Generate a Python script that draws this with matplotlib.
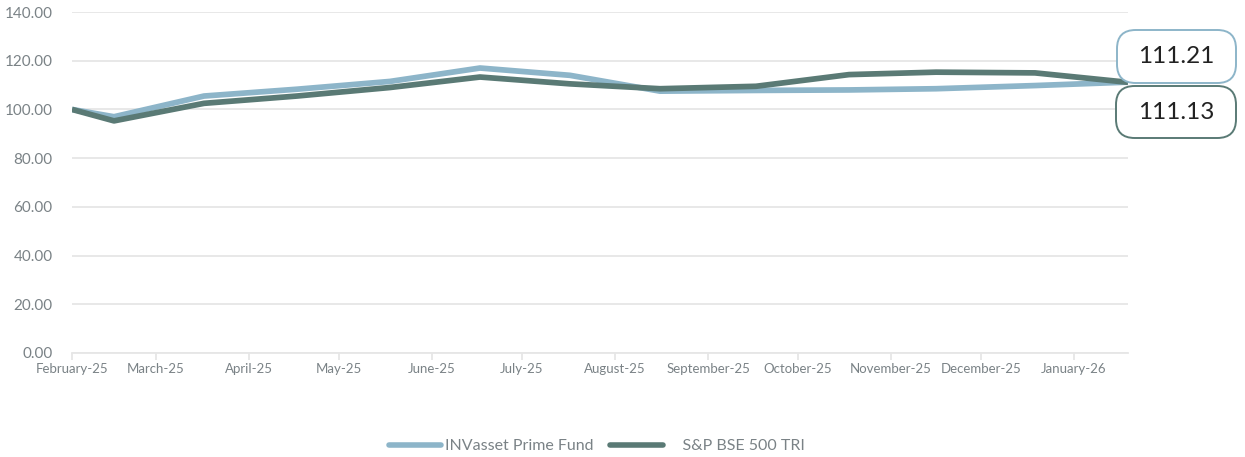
import matplotlib
matplotlib.use("Agg")
import matplotlib.pyplot as plt
import matplotlib.dates as mdates
from matplotlib.patches import FancyBboxPatch
import numpy as np
import pandas as pd

plt.rcParams['font.family'] = ['Lato', 'DejaVu Sans']

dates = pd.to_datetime(['2025-02-01', '2025-02-15', '2025-03-17', '2025-04-17', '2025-05-18',
                        '2025-06-17', '2025-07-17', '2025-08-16', '2025-09-17', '2025-10-18',
                        '2025-11-16', '2025-12-19', '2026-01-19'])
fund = [100.0, 97.0, 105.5, 108.3, 111.5, 117.0, 114.0, 107.5, 107.8, 108.0, 108.5, 109.8, 111.21]
bench = [100.0, 95.3, 102.5, 105.5, 109.0, 113.3, 110.5, 108.5, 109.5, 114.3, 115.3, 115.0, 111.13]
series_names = ['INVasset Prime Fund', '    S&P BSE 500 TRI']
end_labels = ['111.21', '111.13']
yticks = [0, 20, 40, 60, 80, 100, 120, 140]
month_ticks = pd.date_range('2025-02-01', '2026-01-01', freq='MS')

c_fund = '#8db5c9'
c_bench = '#5a7a75'
grid_c = '#e6e6e6'
txt_c = '#7a8286'

W, H = 1245, 457
fig = plt.figure(figsize=(W / 100, H / 100), dpi=100)
ax = fig.add_axes([72 / W, 1 - 353 / H, (1128 - 72) / W, (353 - 12) / H])

ax.plot(dates, fund, color=c_fund, lw=4.1, solid_joinstyle='round', solid_capstyle='butt',
        label=series_names[0], zorder=3)
ax.plot(dates, bench, color=c_bench, lw=4.1, solid_joinstyle='round', solid_capstyle='butt',
        label=series_names[1], zorder=4)

ax.set_ylim(0, 140)
ax.set_yticks(yticks)
ax.set_yticklabels([f'{v:.2f}' for v in yticks])
ax.set_xlim(dates[0], dates[-1])
ax.set_xticks(month_ticks)
ax.set_xticklabels([d.strftime('%B-%y') for d in month_ticks])

ax.grid(axis='y', color=grid_c, lw=1.3)
ax.set_axisbelow(True)
for s in ['top', 'right', 'left']:
    ax.spines[s].set_visible(False)
ax.spines['bottom'].set_color(grid_c)
ax.spines['bottom'].set_linewidth(1.3)
ax.tick_params(axis='y', length=0, labelsize=11, labelcolor=txt_c, pad=14)
ax.tick_params(axis='x', length=5, color=grid_c, width=1.3, labelsize=9.5, labelcolor=txt_c, pad=2)

# end-value callouts
def add_box(x0, y0, x1, y1, edge, text):
    fx0, fx1 = x0 / W, x1 / W
    fy0, fy1 = 1 - y1 / H, 1 - y0 / H
    p = FancyBboxPatch((fx0, fy0), fx1 - fx0, fy1 - fy0,
                       boxstyle='round,pad=0,rounding_size=0.015',
                       transform=fig.transFigure, facecolor='white', edgecolor=edge, lw=1.4,
                       mutation_aspect=W / H, clip_on=False)
    fig.add_artist(p)
    fig.text((fx0 + fx1) / 2, (fy0 + fy1) / 2, text, ha='center', va='center',
             fontsize=17.5, color='#222222')

add_box(1117, 30, 1236, 83, c_fund, end_labels[0])
add_box(1116, 86, 1236, 138, c_bench, end_labels[1])

leg = fig.legend(loc='center', bbox_to_anchor=(597 / W, 1 - 446 / H), ncol=2, frameon=False,
                 handlelength=3.3, handletextpad=0.25, columnspacing=1.0, fontsize=11.5)
for t in leg.get_texts():
    t.set_color(txt_c)
for l in leg.get_lines():
    l.set_linewidth(4)
    l.set_solid_capstyle('round')

fig.savefig('out.png', dpi=100)
